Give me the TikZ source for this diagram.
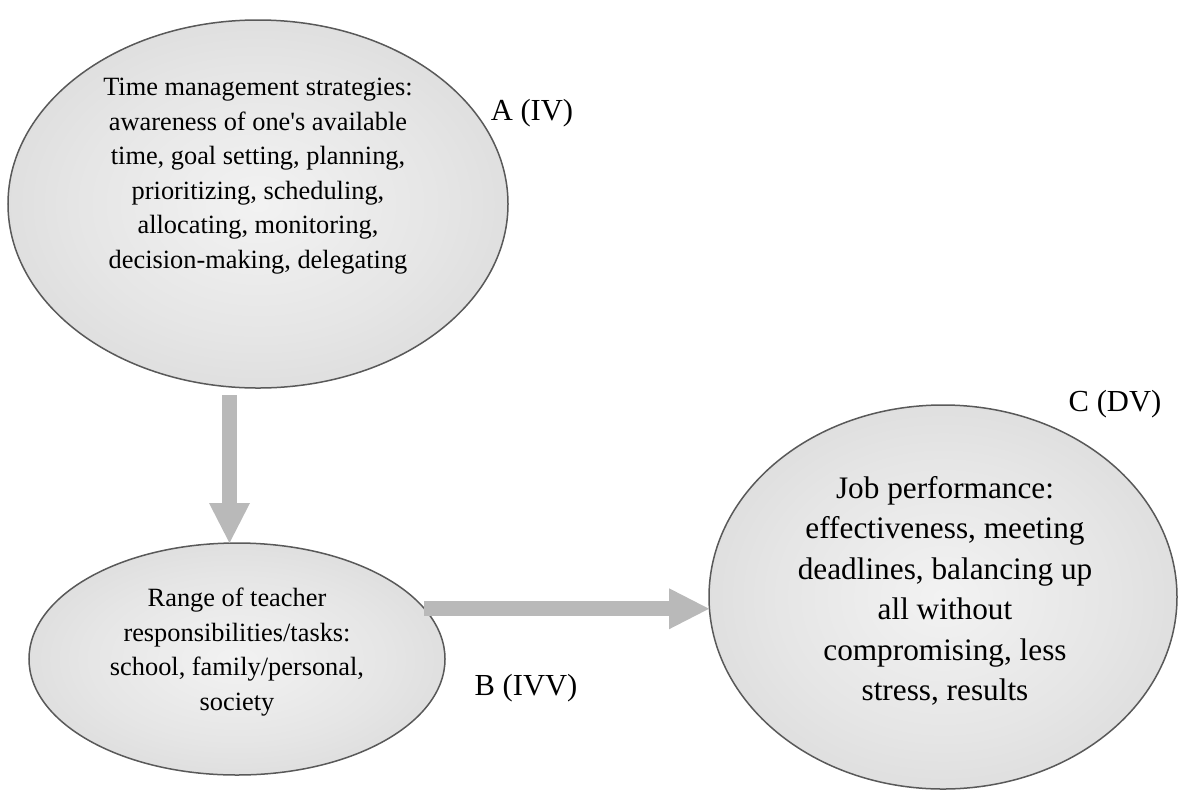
\documentclass[tikz,border=0pt]{standalone}
\usepackage{fontspec}
\setmainfont{Liberation Serif}
\usetikzlibrary{calc,arrows.meta,shapes.geometric}
\pgfdeclareradialshading{bubbleshade}{\pgfpoint{0bp}{0bp}}{%
  color(0bp)=(gray!10); color(18bp)=(gray!20); color(38bp)=(gray!34); color(50bp)=(gray!46)}
\tikzset{
  bubble/.style={ellipse, draw=gray!70!black, line width=0.3mm, shading=bubbleshade,
    inner sep=0pt, outer sep=0pt},
  flow/.style={draw=gray!55, line width=3mm,
    -{Triangle[width=8.2mm, length=8mm, line width=0pt]}},
  bubbletext/.style={font=\fontsize{15}{19.6}\selectfont, align=center, inner sep=0pt},
  bigtext/.style={font=\fontsize{17.8}{23}\selectfont, align=center, inner sep=0pt},
  varlabel/.style={font=\fontsize{17.4}{21}\selectfont, inner sep=0pt}
}

\begin{document}
\begin{tikzpicture}[x=0.2mm, y=-0.2mm]
    \useasboundingbox (0,0) rectangle (1179,790);

    % coordinates to be reused
    \coordinate (a) at (258,204);
    \coordinate (b) at (237,659);
    \coordinate (c) at (943,597);

    % draw figure
    \node [bubble, minimum width=100mm, minimum height=73.6mm] (A) at (a) {};
    \node [bubble, minimum width=83.2mm, minimum height=46.4mm] (B) at (b) {};
    \node [bubble, minimum width=93.6mm, minimum height=76.8mm] (C) at (c) {};
    \draw [flow] ($(B.north |- A.south)+(-7.5,7)$) -- ($(B.north)+(-7.5,0)$);
    \draw [flow] (B.15) -- (B.15 -| C.west);

    % add labels
    \node [bubbletext] (atext) at ($(a)+(0,-28)$) {Time management strategies:\\
      awareness of one\textquotesingle s available\\ time, goal setting, planning,\\
      prioritizing, scheduling,\\ allocating, monitoring,\\ decision-making, delegating};
    \node [bubbletext] (btext) at ($(b)+(0,-7)$) {Range of teacher\\
      responsibilities/tasks:\\ school, family/personal,\\ society};
    \node [bigtext] (ctext) at ($(c)+(2,-6)$) {Job performance:\\
      effectiveness, meeting\\ deadlines, balancing up\\ all without\\
      compromising, less\\ stress, results};
    \node [varlabel] (alabel) at (532,113) {A (IV)};
    \node [varlabel] (blabel) at (526,688) {B (IVV)};
    \node [varlabel] (clabel) at (1115,404) {C (DV)};
\end{tikzpicture}
\end{document}
